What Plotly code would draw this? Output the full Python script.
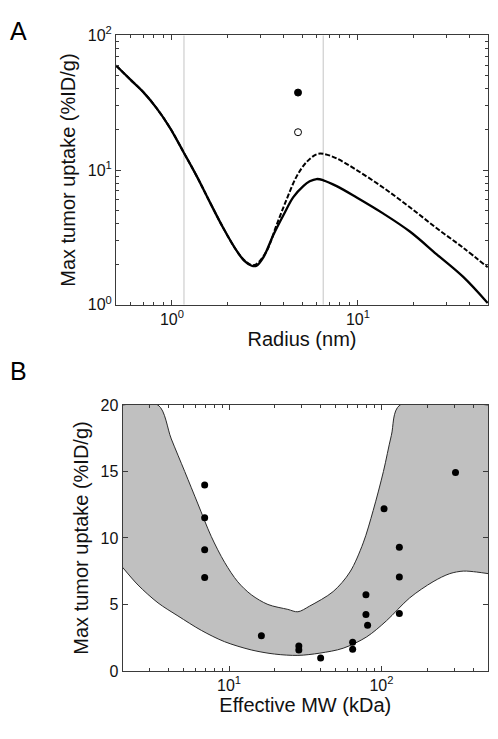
import plotly.graph_objects as go

# ---------------- Panel A data ----------------
radius_solid = [0.5, 0.594, 0.701, 0.828, 0.975, 1.16, 1.36, 1.60, 1.89, 2.23,
                2.45, 2.68, 2.85, 3.10, 3.51, 3.97, 4.49, 5.08, 5.50, 5.99, 6.51, 7.68,
                9.84, 13.7, 19.0, 26.5, 36.8, 49.8]
uptake_solid = [59.7, 47.3, 37.9, 28.7, 20.6, 13.4, 8.98, 5.76, 3.70, 2.51,
                2.12, 1.95, 1.95, 2.25, 3.31, 4.62, 6.30, 7.60, 8.25, 8.58, 8.40, 7.60,
                6.26, 4.75, 3.50, 2.37, 1.61, 1.03]
radius_dashed = [0.5, 0.594, 0.701, 0.828, 0.975, 1.16, 1.36, 1.60, 1.89, 2.23,
                 2.45, 2.68, 2.85, 3.23, 3.65, 4.14, 4.68, 5.30, 5.99, 6.51, 7.68,
                 9.84, 13.7, 19.0, 26.5, 36.8, 49.8]
uptake_dashed = [59.7, 47.3, 37.9, 28.7, 20.6, 13.4, 8.98, 5.76, 3.70, 2.51,
                 2.14, 1.97, 2.01, 2.51, 3.91, 6.09, 8.98, 11.5, 13.1, 13.2, 12.2,
                 10.0, 7.39, 5.30, 3.70, 2.65, 1.90]
marker_radius = [4.76]
marker_filled_uptake = [37.6]
marker_open_uptake = [19.1]
threshold_radii = [1.16, 6.5]
uptake_range_A = [1, 100]

# ---------------- Panel B data ----------------
band_upper_mw = [2.0, 3.42, 4.18, 5.12, 6.25, 7.64, 9.35, 11.4, 14.0, 18.0,
                 24.3, 28.3, 33.8, 48.2, 62.1, 75.9, 88.3, 103, 116, 132, 500]
band_upper = [20, 20, 17.45, 15.0, 12.56, 10.12, 8.17, 6.71, 5.73, 5.0,
              4.63, 4.45, 4.88, 5.97, 7.44, 9.63, 12.08, 15.0, 17.69, 20, 20]
band_lower_mw = [2.0, 2.53, 3.42, 4.62, 6.58, 9.35, 14.0, 19.9, 28.3, 39.4,
                 56.1, 79.9, 108, 153, 218, 281, 344, 421, 500]
band_lower = [7.80, 6.46, 5.12, 4.14, 3.05, 2.20, 1.58, 1.27, 1.17, 1.34,
              1.71, 2.56, 3.78, 5.49, 6.71, 7.32, 7.51, 7.44, 7.32]
obs_mw = [6.92, 6.92, 6.92, 6.92, 16.3, 28.7, 28.7, 39.9, 64.7, 64.7,
          79.1, 79.1, 81.1, 104, 131, 131, 131, 306]
obs_uptake = [13.98, 11.52, 9.12, 7.03, 2.64, 1.87, 1.58, 0.97, 2.15, 1.63,
              5.73, 4.25, 3.44, 12.2, 9.30, 7.07, 4.32, 14.93]
uptake_range_B = [0, 20]

W, H = 498, 739
FONT = "Liberation Sans, Arial, Helvetica, sans-serif"
AX = "#3a3a3a"

fig = go.Figure()

# Panel A
for r in threshold_radii:
    fig.add_trace(go.Scatter(x=[r, r], y=uptake_range_A, mode="lines",
                             line=dict(color="#c4c4c4", width=1),
                             xaxis="x", yaxis="y", showlegend=False, hoverinfo="skip"))
fig.add_trace(go.Scatter(x=radius_dashed, y=uptake_dashed, mode="lines",
                         line=dict(color="black", width=2, dash="5px,2px", shape="spline", smoothing=1),
                         xaxis="x", yaxis="y", showlegend=False))
fig.add_trace(go.Scatter(x=radius_solid, y=uptake_solid, mode="lines",
                         line=dict(color="black", width=2.3, shape="spline", smoothing=1),
                         xaxis="x", yaxis="y", showlegend=False))
fig.add_trace(go.Scatter(x=marker_radius, y=marker_filled_uptake, mode="markers",
                         marker=dict(color="black", size=7, line=dict(color="black", width=1)),
                         xaxis="x", yaxis="y", showlegend=False))
fig.add_trace(go.Scatter(x=marker_radius, y=marker_open_uptake, mode="markers",
                         marker=dict(color="white", size=7, line=dict(color="black", width=1)),
                         xaxis="x", yaxis="y", showlegend=False))

# Panel B
fig.add_trace(go.Scatter(x=band_lower_mw, y=band_lower, mode="lines",
                         line=dict(color="#2a2a2a", width=1, shape="spline", smoothing=0.9),
                         xaxis="x2", yaxis="y2", showlegend=False))
fig.add_trace(go.Scatter(x=band_upper_mw, y=band_upper, mode="lines", fill="tonexty",
                         fillcolor="#c0c0c0",
                         line=dict(color="#2a2a2a", width=1, shape="spline", smoothing=0.9),
                         xaxis="x2", yaxis="y2", showlegend=False))
fig.add_trace(go.Scatter(x=obs_mw, y=obs_uptake, mode="markers",
                         marker=dict(color="black", size=7),
                         xaxis="x2", yaxis="y2", showlegend=False))

def minor_log(lo_exp, hi_exp, lo, hi):
    vals = []
    for e in range(lo_exp, hi_exp + 1):
        for m in range(2, 10):
            v = m * 10 ** e
            if lo <= v <= hi:
                vals.append(v)
    return vals

common = dict(showline=True, linecolor=AX, linewidth=1, mirror="ticks",
              ticks="inside", ticklen=5, tickcolor=AX, tickwidth=1,
              showgrid=False, zeroline=False,
              tickfont=dict(family=FONT, size=16, color="#111"))
tfont = dict(family=FONT, size=20, color="#111")

xA = (116 / W, 488 / W)
yA = (1 - 302 / H, 1 - 25 / H)
xB = (122.5 / W, 488 / W)
yB = (1 - 678.3 / H, 1 - 405 / H)

fig.update_layout(
    width=W, height=H, margin=dict(l=0, r=0, t=0, b=0),
    paper_bgcolor="white", plot_bgcolor="white",
    xaxis=dict(common, type="log", domain=xA, anchor="y",
               range=[-0.30103, 1.69897],
               tickvals=[1, 10], ticktext=["10<sup>0</sup>", "10<sup>1</sup>"],
               minor=dict(tickvals=minor_log(-1, 1, 0.5, 50), ticks="inside", ticklen=3,
                          tickcolor=AX, showgrid=False),
               title=dict(text="Radius (nm)", font=tfont, standoff=4)),
    yaxis=dict(common, type="log", domain=yA, anchor="x",
               range=[0, 2],
               tickvals=[1, 10, 100], ticktext=["10<sup>0</sup>", "10<sup>1</sup>", "10<sup>2</sup>"],
               minor=dict(tickvals=minor_log(0, 1, 1, 100), ticks="inside", ticklen=3,
                          tickcolor=AX, showgrid=False),
               title=dict(text="Max tumor uptake (%ID/g)", font=tfont, standoff=6)),
    xaxis2=dict(common, type="log", domain=xB, anchor="y2",
                range=[0.30103, 2.69897],
                tickvals=[10, 100], ticktext=["10<sup>1</sup>", "10<sup>2</sup>"],
                minor=dict(tickvals=minor_log(0, 2, 2, 500), ticks="inside", ticklen=3,
                           tickcolor=AX, showgrid=False),
                title=dict(text="Effective MW (kDa)", font=tfont, standoff=2)),
    yaxis2=dict(common, domain=yB, anchor="x2", range=uptake_range_B,
                tickvals=[0, 5, 10, 15, 20],
                title=dict(text="Max tumor uptake (%ID/g)", font=tfont, standoff=6)),
    annotations=[
        dict(text="A", x=18 / W, y=1 - 21 / H, xref="paper", yref="paper",
             xanchor="center", yanchor="middle",
             showarrow=False, font=dict(family=FONT, size=25, color="black")),
        dict(text="B", x=18 / W, y=1 - 370 / H, xref="paper", yref="paper",
             xanchor="center", yanchor="middle",
             showarrow=False, font=dict(family=FONT, size=25, color="black")),
    ],
)

fig.write_html("out.html", config={"displayModeBar": False},
               post_script="document.body.style.margin='0px';")
